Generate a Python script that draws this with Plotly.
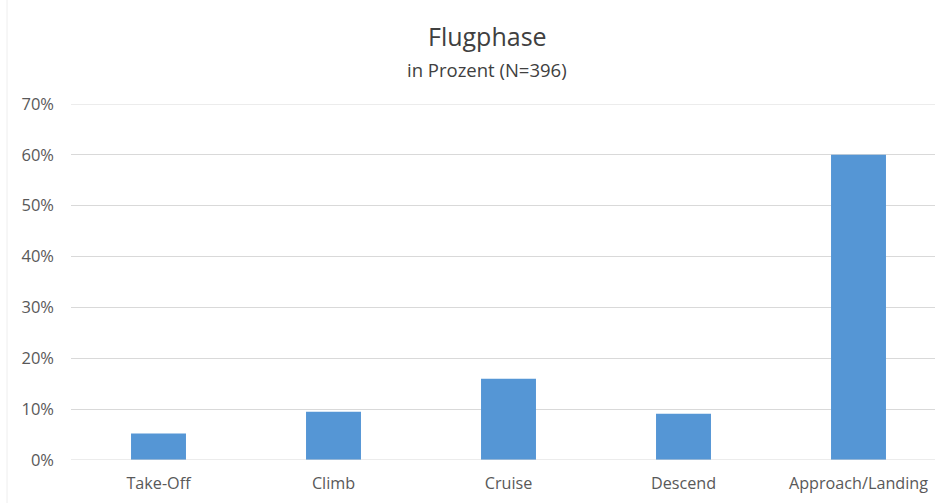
import plotly.graph_objects as go

categories = ["Take-Off", "Climb", "Cruise", "Descend", "Approach/Landing"]
values = [0.052, 0.095, 0.16, 0.091, 0.60]
tick_vals = [0, 0.1, 0.2, 0.3, 0.4, 0.5, 0.6, 0.7]
tick_text = ["0%", "10%", "20%", "30%", "40%", "50%", "60%", "70%"]

W, H = 935, 503
L, R, T, B = 71, 0, 104, 43
PW, PH = W - L - R, H - T - B

fig = go.Figure(go.Bar(
    x=categories, y=values,
    marker=dict(color="#5596D5", line=dict(width=0)),
    width=0.314,
    hoverinfo="x+y",
))

font_family = "Open Sans, Noto Sans, sans-serif"
fig.update_layout(
    width=W, height=H,
    margin=dict(l=L, r=R, t=T, b=B),
    paper_bgcolor="white", plot_bgcolor="white",
    showlegend=False,
    font=dict(family=font_family, color="#595959", size=16),
    xaxis=dict(
        type="category",
        range=[-0.5, -0.5 + PW / 175.0],
        showgrid=False, showline=False, zeroline=False,
        ticks="", tickfont=dict(size=16.2, color="#595959"),
        ticklabelstandoff=12,
    ),
    yaxis=dict(
        range=[0, 0.7],
        tickvals=tick_vals, ticktext=tick_text,
        showgrid=True, gridcolor="#D9D9D9", gridwidth=1,
        zeroline=False, showline=False, ticks="",
        tickfont=dict(size=16.5, color="#595959"),
        ticklabelstandoff=16,
    ),
    annotations=[
        dict(text="Flugphase", xref="paper", yref="paper",
             x=(487 - L) / PW, y=1 + (T - 36) / PH,
             xanchor="center", yanchor="middle", showarrow=False,
             font=dict(size=25, color="#404040", family=font_family)),
        dict(text="in Prozent (N=396)", xref="paper", yref="paper",
             x=(487 - L) / PW, y=1 + (T - 69) / PH,
             xanchor="center", yanchor="middle", showarrow=False,
             font=dict(size=18.5, color="#404040", family=font_family)),
    ],
    shapes=[
        dict(type="line", xref="paper", yref="paper",
             x0=-(L - 7) / PW, x1=-(L - 7) / PW,
             y0=-B / PH, y1=1 + T / PH,
             line=dict(color="#EEEEEE", width=1)),
    ],
)
fig.add_hline(y=0, line=dict(color="#D9D9D9", width=1), layer="above")
fig.add_hline(y=0.7, line=dict(color="#D9D9D9", width=1), layer="above")

fig.write_html(
    "out.html",
    config={"displayModeBar": False},
    post_script="document.body.style.margin='0';document.body.style.overflow='hidden';",
)
